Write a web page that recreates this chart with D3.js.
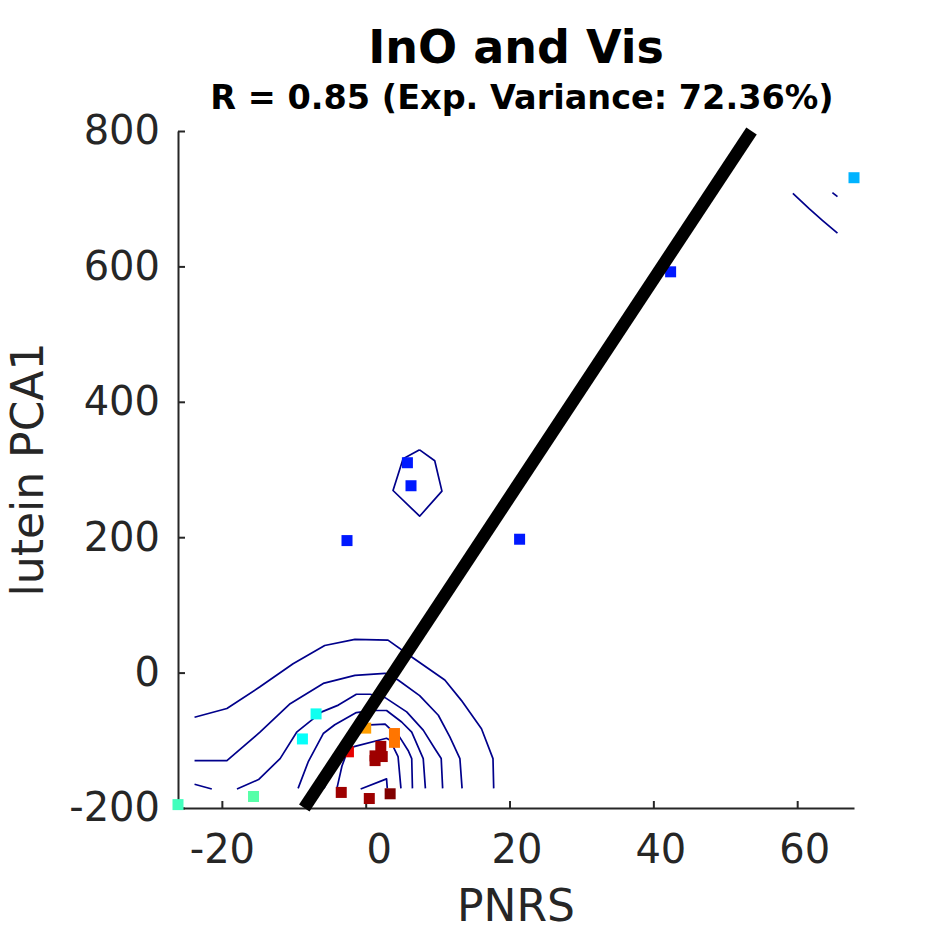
<!DOCTYPE html>
<html>
<head>
<meta charset="utf-8">
<script src="https://cdn.jsdelivr.net/npm/d3@7"></script>
<style>
  body { margin: 0; background: #fff; }
  text { font-family: "DejaVu Sans", sans-serif; }
</style>
</head>
<body>
<div id="chart"></div>
<script>
const xTicks = [-20, 0, 20, 40, 60];
const yTicks = [-200, 0, 200, 400, 600, 800];

// samples: PNRS, lutein PCA1, colour value (jet)
const pnrs   = [-26.1, -15.6, -6.9, -8.8, -2.6, 5.8, 6.3, 21.4, 42.4, 67.9, 0.0, 4.0, 4.0, -2.4, 2.1, 1.3, 1.3, 2.3, -3.4, 0.5, 3.4];
const lutein = [-195, -183, -61, -98, 195, 310, 276, 197, 592, 731, -82, -90, -103, -117, -109, -123, -130, -124, -177, -186, -179];
const colorVal = [0.44, 0.46, 0.39, 0.38, 0.15, 0.15, 0.15, 0.15, 0.15, 0.30, 0.72, 0.76, 0.76, 0.90, 0.97, 0.97, 0.97, 0.97, 0.97, 0.97, 1.0];

// regression line: slope, intercept
const fit = [16.08, -62.7];

// density contour polylines (PNRS, lutein PCA1)
const contourLines = [
  [[-23.8,-66],[-19.3,-53],[-14.7,-21],[-10.1,13],[-5.7,40],[-1.5,49],[3.1,48],[6.4,23],[11,-11],[13.3,-41],[16.1,-83],[17.7,-127],[17.8,-171]],
  [[-23.8,-130],[-19.3,-130],[-14.7,-88],[-10.5,-46],[-5.9,-16],[-1.5,-4],[2.7,-1],[4.5,-11],[7.5,-34],[10.1,-63],[11.7,-95],[13.1,-127],[13.4,-171]],
  [[-23.8,-165],[-21.4,-172]],
  [[-17.9,-172],[-14.9,-158],[-11.9,-127],[-9.6,-88],[-6.1,-58],[-3.8,-48],[-1.3,-32],[0.6,-32],[2.7,-37],[5.7,-58],[8,-85],[9.6,-112],[10.5,-127],[10.7,-171]],
  [[-9.4,-171],[-8,-132],[-5.9,-90],[-4.3,-77],[-1.3,-59],[0.8,-56],[2.9,-56],[5,-73],[6.4,-88],[8,-127],[8.3,-171]],
  [[-5.8,-171],[-4.3,-137],[-2.8,-103],[-0.8,-78],[2.7,-76],[3.4,-83],[4.7,-95],[5.9,-115],[6.4,-127],[6.5,-171]],
  [[-4,-171],[-3.3,-138],[-2.4,-112],[-1.5,-109],[2.9,-97],[3.4,-100],[4.5,-124],[4.9,-171]],
  [[-0.7,-172],[2.9,-157],[3,-171]],
  [[59.4,708],[61.7,685],[63.5,668],[65.6,649]],
  [[64.9,709],[65.6,703]],
  [[7.5,329],[9.6,313],[10.6,268],[7.5,231],[3.8,269],[5.2,316],[7.5,329]]
];

const width = 945, height = 945;
const margin = {top: 131, right: 91, bottom: 137, left: 178};
const axisColor = "#262626";

const jet = d3.scaleLinear()
  .domain([0, 0.125, 0.375, 0.625, 0.875, 1])
  .range(["#00008f", "#0000ff", "#00ffff", "#ffff00", "#ff0000", "#800000"]);

const x = d3.scaleLinear()
  .domain(d3.extent(pnrs))
  .range([margin.left, width - margin.right]);
const y = d3.scaleLinear()
  .domain([-200, 800])
  .range([height - margin.bottom, margin.top]);

const svg = d3.select("#chart").append("svg")
  .attr("width", width)
  .attr("height", height);

// axes (plain hyphen for negatives, like the original)
const fmt = d => String(d);
const gx = svg.append("g")
  .attr("transform", `translate(0, ${height - margin.bottom})`)
  .call(d3.axisBottom(x).tickValues(xTicks).tickFormat(fmt).tickSize(-7).tickSizeOuter(0).tickPadding(27));
const gy = svg.append("g")
  .attr("transform", `translate(${margin.left}, 0)`)
  .call(d3.axisLeft(y).tickValues(yTicks).tickFormat(fmt).tickSize(-7).tickSizeOuter(0).tickPadding(18));
[gx, gy].forEach(g => {
  g.select(".domain").attr("stroke", axisColor).attr("stroke-width", 2);
  g.selectAll(".tick line").attr("stroke", axisColor).attr("stroke-width", 2);
  g.selectAll(".tick text").attr("fill", axisColor)
    .style("font-size", "40px").style("font-family", "DejaVu Sans");
});
// the original's x labels sit a little right of their ticks (non-negative ones)
gx.selectAll(".tick text").attr("dx", d => d < 0 ? 0 : (d === 0 ? 13 : 7));

// contours
const line = d3.line().x(d => x(d[0])).y(d => y(d[1]));
svg.append("g")
  .selectAll("path")
  .data(contourLines)
  .enter().append("path")
  .attr("d", line)
  .attr("fill", "none")
  .attr("stroke", "#00008b")
  .attr("stroke-width", 1.7)
  .attr("stroke-linejoin", "round");

// points
const pts = pnrs.map((v, i) => ({x: v, y: lutein[i], c: colorVal[i]}));
const s = 11;
svg.append("g")
  .selectAll("rect")
  .data(pts)
  .enter().append("rect")
  .attr("x", d => x(d.x) - s / 2)
  .attr("y", d => y(d.y) - s / 2)
  .attr("width", s)
  .attr("height", s)
  .attr("fill", d => jet(d.c));

// fit line between the y limits
const yEnds = y.domain();
svg.append("line")
  .attr("x1", x((yEnds[0] - fit[1]) / fit[0]))
  .attr("y1", y(yEnds[0]))
  .attr("x2", x((yEnds[1] - fit[1]) / fit[0]))
  .attr("y2", y(yEnds[1]))
  .attr("stroke", "#000")
  .attr("stroke-width", 12.5);

// titles and labels
const cx = (margin.left + width - margin.right) / 2;
svg.append("text")
  .attr("x", cx).attr("y", 63)
  .attr("text-anchor", "middle")
  .style("font-size", "46px").style("font-weight", "bold")
  .text("InO and Vis");
svg.append("text")
  .attr("x", cx + 6).attr("y", 109)
  .attr("text-anchor", "middle")
  .style("font-size", "33.5px").style("font-weight", "bold")
  .text("R = 0.85 (Exp. Variance: 72.36%)");
svg.append("text")
  .attr("x", cx).attr("y", 921)
  .attr("text-anchor", "middle")
  .attr("fill", axisColor)
  .style("font-size", "44px")
  .text("PNRS");
svg.append("text")
  .attr("transform", `translate(43, ${(margin.top + height - margin.bottom) / 2}) rotate(-90)`)
  .attr("text-anchor", "middle")
  .attr("fill", axisColor)
  .style("font-size", "44px")
  .text("lutein PCA1");
</script>
</body>
</html>
